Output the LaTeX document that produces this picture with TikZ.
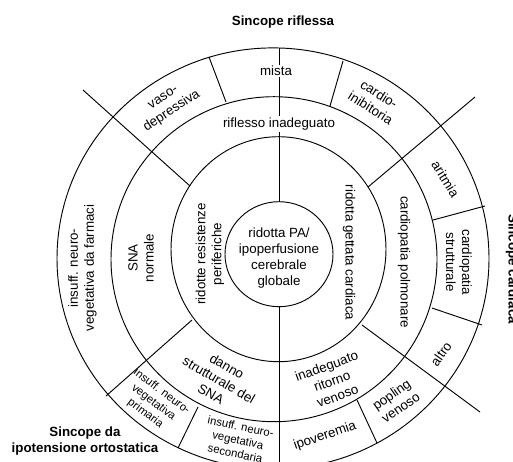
\documentclass[tikz,border=0pt]{standalone}
\usepackage{fontspec}
\setmainfont{Liberation Sans}
\begin{document}
\begin{tikzpicture}[x=0.75pt,y=-0.75pt,line width=0.7pt,
  lbl/.style={align=center,font=\fontsize{10}{12}\selectfont,inner sep=1pt},
  sm/.style={align=center,font=\fontsize{8.5}{10.2}\selectfont,inner sep=1pt},
  ttl/.style={align=center,font=\bfseries\fontsize{10}{12}\selectfont,inner sep=1pt},
  wb/.style={fill=white}]
\useasboundingbox (0,0) rectangle (513,461);
\clip (0,0) rectangle (513,461);
% rings
\draw (279,254.2) ellipse [x radius=54,y radius=52.5];
\draw (278.5,249.2) ellipse [x radius=107.5,y radius=112.5];
\draw (274,259.2) ellipse [x radius=163,y radius=162.5];
\draw (273,258.5) ellipse [x radius=216,y radius=210.6];
% named coordinates
\coordinate (vt1) at (279,48);   \coordinate (vt2) at (279,201.7);
\coordinate (vb1) at (279,306.7); \coordinate (vb2) at (279,470);
\coordinate (ul1) at (83,90);    \coordinate (ul2) at (190,186);
\coordinate (ur1) at (475,97);   \coordinate (ur2) at (368,187);
\coordinate (lr1) at (362,325);  \coordinate (lr2) at (480,412);
\coordinate (ll1) at (192,320);  \coordinate (ll2) at (106,396);
\coordinate (tl1) at (209,57);   \coordinate (tl2) at (226,102);
\coordinate (tr1) at (343,61);   \coordinate (tr2) at (330,106);
\coordinate (ru1) at (433,220);  \coordinate (ru2) at (485,206);
\coordinate (rl1) at (432,308);  \coordinate (rl2) at (482,325);
\coordinate (br1) at (357,400);  \coordinate (br2) at (377,443);
\coordinate (bl1) at (198,407);  \coordinate (bl2) at (178,448);
% dividers
\draw (vt1) -- (vt2);
\draw (vb1) -- (vb2);
\draw (ul1) -- (ul2);
\draw (ur1) -- (ur2);
\draw (lr1) -- (lr2);
\draw (ll1) -- (ll2);
\draw (tl1) -- (tl2);
\draw (tr1) -- (tr2);
\draw (ru1) -- (ru2);
\draw (rl1) -- (rl2);
\draw (br1) -- (br2);
\draw (bl1) -- (bl2);
% centre
\node[lbl] (centre) at (279,258) {ridotta PA/\\ipoperfusione\\cerebrale\\globale};
% inner ring
\node[lbl,rotate=90] (resist) at (210,254) {ridotte resistenze\\periferiche};
\node[lbl,rotate=-90] (gettata) at (349,252.5) {ridotta gettata cardiaca};
% middle ring
\node[lbl,wb] (riflesso) at (279,124) {riflesso inadeguato};
\node[lbl,rotate=90] (sna) at (141,258) {SNA\\normale};
\node[lbl,rotate=-30] (danno) at (219,380) {danno\\strutturale del\\SNA};
\node[lbl,rotate=20] (ritorno) at (332,381) {inadeguato\\ritorno\\venoso};
\node[lbl,rotate=-90] (polm) at (404,262) {cardiopatia polmonare};
% outer ring
\node[lbl,wb] (mista) at (276,71) {mista};
\node[lbl,wb,rotate=33] (vaso) at (168,105) {vaso-\\depressiva};
\node[lbl,wb,rotate=-32] (cardio) at (375,101) {cardio-\\inibitoria};
\node[lbl,rotate=-58] (aritmia) at (445.5,179) {aritmia};
\node[lbl,rotate=-90] (strutt) at (459,262) {cardiopatia\\strutturale};
\node[lbl,rotate=55] (altro) at (441,354) {altro};
\node[lbl,rotate=35] (popling) at (396,401) {popling\\venoso};
\node[lbl,rotate=19] (ipov) at (325,436) {ipoveremia};
\node[sm,rotate=-12] (second) at (238,440) {insuff. neuro-\\vegetativa\\secondaria};
\node[sm,rotate=-37] (prim) at (153.5,402.6) {insuff. neuro-\\vegetativa\\primaria};
\node[lbl,rotate=90] (farmaci) at (82.5,268) {insuff. neuro-\\vegetativa da farmaci};
% titles
\node[ttl] (tit1) at (283,22) {Sincope riflessa};
\node[ttl,rotate=-90] (tit2) at (512,269) {Sincope cardiaca};
\node[ttl] (tit3) at (85,441) {Sincope da\\ipotensione ortostatica};
\end{tikzpicture}
\end{document}
